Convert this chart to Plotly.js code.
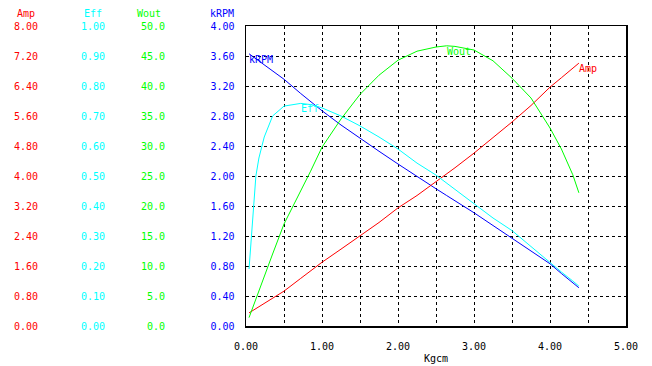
<!DOCTYPE html>
<html>
<head>
<meta charset="utf-8">
<script src="https://cdn.plot.ly/plotly-3.0.1.min.js"></script>
<style>html,body{margin:0;padding:0;background:#fff;}#chart{width:652px;height:366px;}</style>
</head>
<body>
<div id="chart"></div>
<script>
const torque = [0.04,0.08,0.13,0.17,0.24,0.35,0.5,0.72,0.85,1.0,1.25,1.5,1.75,2.0,2.25,2.5,2.64,2.75,3.0,3.25,3.5,3.75,4.0,4.15,4.3,4.38];
const amp    = [0.35,0.40,0.47,0.52,0.60,0.74,0.93,1.27,1.47,1.70,2.05,2.40,2.76,3.15,3.48,3.85,4.05,4.22,4.61,5.02,5.44,5.88,6.37,6.62,6.88,7.01];
const eff    = [0.19,0.34,0.50,0.56,0.63,0.70,0.733,0.742,0.738,0.727,0.70,0.667,0.63,0.59,0.543,0.503,0.476,0.455,0.407,0.36,0.318,0.265,0.21,0.18,0.15,0.133];
const wout   = [1.4,2.8,4.6,6.0,8.3,12.0,17.0,22.5,25.8,29.8,34.5,38.6,41.8,44.3,45.8,46.5,46.7,46.6,46.0,44.2,41.3,38.0,33.0,29.5,25.2,22.2];
const krpm   = [3.63,3.60,3.57,3.54,3.48,3.40,3.29,3.10,2.99,2.87,2.68,2.50,2.33,2.16,1.99,1.83,1.74,1.67,1.51,1.34,1.17,1.00,0.83,0.70,0.58,0.51];

const xTickVals = [0,0.5,1,1.5,2,2.5,3,3.5,4,4.5,5];
const xTickText = ['0.00','','1.00','','2.00','','3.00','','4.00','','5.00'];
const ampTicks  = [0,0.8,1.6,2.4,3.2,4.0,4.8,5.6,6.4,7.2,8.0];
const effTicks  = [0,0.1,0.2,0.3,0.4,0.5,0.6,0.7,0.8,0.9,1.0];
const woutTicks = [0,5,10,15,20,25,30,35,40,45,50];
const krpmTicks = [0,0.4,0.8,1.2,1.6,2.0,2.4,2.8,3.2,3.6,4.0];
const names = ['Amp','Eff','Wout','kRPM'];

const RED='#ff0000', CYAN='#00ffff', GREEN='#00ff00', BLUE='#0000ff';
const FONT='DejaVu Sans Mono';
const W=652, L=0, R=26;
const pw = W-L-R;
const px = p => p/pw;

const traces = [
  {x:torque, y:amp,  yaxis:'y2', mode:'lines', line:{color:RED,width:1}, name:'Amp'},
  {x:torque, y:eff,  yaxis:'y3', mode:'lines', line:{color:CYAN,width:1}, name:'Eff'},
  {x:torque, y:wout, yaxis:'y4', mode:'lines', line:{color:GREEN,width:1}, name:'Wout'},
  {x:torque, y:krpm, yaxis:'y',  mode:'lines', line:{color:BLUE,width:1}, name:'kRPM'}
];

function yax(ticks, fmt, color, pos, extra){
  return Object.assign({
    range:[0, ticks[ticks.length-1]], tickvals:ticks, ticktext:ticks.map(v=>v.toFixed(fmt)),
    tickfont:{family:FONT,size:10,color:color}, ticks:'', showgrid:false, zeroline:false,
    showline:false, fixedrange:true, ticklabelstandoff:8
  }, pos, extra||{});
}

const imax = a => a.indexOf(Math.max(...a));
const ie = imax(eff), iw = imax(wout), il = torque.length-1;
const annFont = c => ({family:FONT,size:10,color:c});
const lab = (yref, x, y, t, c) => ({xref:'x', yref:yref, x:x, y:y, xanchor:'left', yanchor:'top',
  xshift:-2, yshift:2, text:t, showarrow:false, font:annFont(c)});

const layout = {
  width:652, height:366, margin:{l:L,r:R,t:26,b:40,pad:0},
  paper_bgcolor:'#fff', plot_bgcolor:'#fff', showlegend:false,
  xaxis:{domain:[px(246),1], range:[0,5], tickvals:xTickVals, ticktext:xTickText,
    tickfont:{family:FONT,size:10,color:'#000'}, ticks:'', ticklabelstandoff:10,
    showgrid:true, gridcolor:'#000', gridwidth:1, griddash:'3px,3px', zeroline:false,
    showline:true, linecolor:'#000', linewidth:1.5, mirror:true,
    title:{text:'Kgcm', font:{family:FONT,size:10,color:'#000'}, standoff:4}},
  yaxis: yax(krpmTicks,2,BLUE,{anchor:'x', side:'left'},
    {showgrid:true, gridcolor:'#000', gridwidth:1, griddash:'3px,3px', showline:true, linecolor:'#000', linewidth:1.5, mirror:true}),
  yaxis2: yax(ampTicks,2,RED,{overlaying:'y', anchor:'free', position:px(46), side:'left'}),
  yaxis3: yax(effTicks,2,CYAN,{overlaying:'y', anchor:'free', position:px(113), side:'left'}),
  yaxis4: yax(woutTicks,1,GREEN,{overlaying:'y', anchor:'free', position:px(173), side:'left'}),
  annotations:[
    {xref:'paper', yref:'paper', x:px(37),  y:(326-13)/300, xanchor:'right', yanchor:'middle', text:names[0], showarrow:false, font:annFont(RED)},
    {xref:'paper', yref:'paper', x:px(104), y:(326-13)/300, xanchor:'right', yanchor:'middle', text:names[1], showarrow:false, font:annFont(CYAN)},
    {xref:'paper', yref:'paper', x:px(163), y:(326-13)/300, xanchor:'right', yanchor:'middle', text:names[2], showarrow:false, font:annFont(GREEN)},
    {xref:'paper', yref:'paper', x:px(236), y:(326-13)/300, xanchor:'right', yanchor:'middle', text:names[3], showarrow:false, font:annFont(BLUE)},
    lab('y',  torque[0],  krpm[0],  names[3], BLUE),
    lab('y3', torque[ie], eff[ie],  names[1], CYAN),
    lab('y4', torque[iw], wout[iw], names[2], GREEN),
    lab('y2', torque[il], amp[il],  names[0], RED)
  ]
};

Plotly.newPlot('chart', traces, layout, {staticPlot:true, displayModeBar:false});
</script>
</body>
</html>
